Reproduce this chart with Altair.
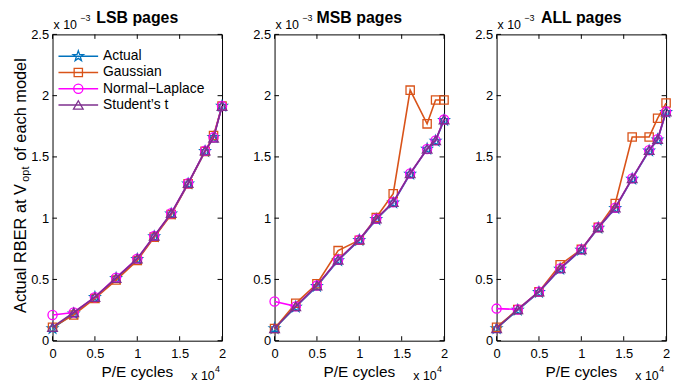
import altair as alt
import numpy as np
import pandas as pd

FONT = "Liberation Sans"

pe_cycles = [0, 2500, 5000, 7500, 10000, 12000, 14000, 16000, 18000, 19000, 20000]
x_ticks = [0, 5000, 10000, 15000, 20000]
y_ticks = [0, 0.5, 1.0, 1.5, 2.0, 2.5]

series_names = ["Actual", "Gaussian", "Normal\u2212Laplace", "Student\u2019s t"]
series_colors = ["#0072BD", "#D95319", "#FF00FF", "#7E2F8E"]

# RBER values in units of 1e-3
lsb_actual = [0.10, 0.22, 0.355, 0.51, 0.665, 0.85, 1.035, 1.28, 1.545, 1.66, 1.915]
lsb_gauss = [0.11, 0.21, 0.345, 0.495, 0.655, 0.845, 1.03, 1.28, 1.545, 1.675, 1.915]
lsb_nl = [0.21, 0.23, 0.355, 0.515, 0.67, 0.855, 1.04, 1.285, 1.55, 1.66, 1.915]
lsb_t = [0.11, 0.23, 0.355, 0.51, 0.67, 0.855, 1.04, 1.285, 1.55, 1.655, 1.915]

msb_actual = [0.10, 0.275, 0.445, 0.655, 0.82, 0.99, 1.125, 1.36, 1.565, 1.63, 1.80]
msb_gauss = [0.10, 0.305, 0.465, 0.735, 0.82, 1.005, 1.20, 2.045, 1.77, 1.965, 1.965]
msb_nl = [0.32, 0.28, 0.45, 0.66, 0.825, 0.995, 1.13, 1.365, 1.565, 1.635, 1.805]
msb_t = [0.10, 0.28, 0.45, 0.66, 0.825, 0.995, 1.13, 1.365, 1.565, 1.635, 1.805]

all_actual = [0.10, 0.25, 0.395, 0.585, 0.74, 0.92, 1.08, 1.32, 1.55, 1.64, 1.865]
all_gauss = [0.11, 0.255, 0.40, 0.62, 0.745, 0.925, 1.12, 1.662, 1.662, 1.815, 1.94]
all_nl = [0.262, 0.255, 0.40, 0.59, 0.745, 0.925, 1.085, 1.325, 1.555, 1.645, 1.87]
all_t = [0.10, 0.255, 0.40, 0.59, 0.745, 0.925, 1.085, 1.325, 1.555, 1.645, 1.87]

panel_titles = ["LSB pages", "MSB pages", "ALL pages"]
panel_data = [
    [lsb_actual, lsb_gauss, lsb_nl, lsb_t],
    [msb_actual, msb_gauss, msb_nl, msb_t],
    [all_actual, all_gauss, all_nl, all_t],
]

# 5-point star (MATLAB pentagram)
_pts = []
for k in range(10):
    r = 1.0 if k % 2 == 0 else 0.40
    a = np.deg2rad(-90 + 36 * k)
    _pts.append(f"{r*np.cos(a):.3f},{r*np.sin(a):.3f}")
STAR = "M" + "L".join(_pts) + "Z"

marker_shapes = [STAR, "square", "circle", "triangle-up"]
marker_sizes = [120, 70, 85, 95]

W, H = 171, 309
TICK = 4.5

xs = alt.Scale(domain=[0, 20000], nice=False, zero=False)
ys = alt.Scale(domain=[0, 2.5], nice=False, zero=False)
xaxis = alt.Axis(values=x_ticks, labelExpr="datum.value / 10000", ticks=False, tickSize=0,
                 domain=False, grid=False, title=None, labelPadding=7, labelFlush=False,
                 labelOverlap=False, labelFont=FONT, labelFontSize=13, labelColor="black")
yaxis = alt.Axis(values=y_ticks, labelExpr="datum.value", ticks=False, tickSize=0,
                 domain=False, grid=False, title=None, labelPadding=4, labelFlush=False,
                 labelOverlap=False, labelFont=FONT, labelFontSize=13, labelColor="black")

one = pd.DataFrame({"k": [0]})


def txt(s, x, y, size, align="center", baseline="alphabetic", weight="normal", angle=0):
    kw = dict(font=FONT, fontSize=size, align=align, baseline=baseline,
              fontWeight=weight, color="black")
    if angle:
        kw["angle"] = angle
    return alt.Chart(one).mark_text(**kw).encode(
        x=alt.value(x), y=alt.value(y), text=alt.value(s))


def panel(idx):
    layers = []
    # tick marks (inside, on all four sides)
    yt = alt.Chart(pd.DataFrame({"rber": y_ticks}))
    xt = alt.Chart(pd.DataFrame({"pe": x_ticks}))
    layers.append(yt.mark_rule(color="black", strokeWidth=1).encode(
        y=alt.Y("rber:Q", scale=ys, axis=yaxis), x=alt.value(0), x2=alt.value(TICK)))
    layers.append(yt.mark_rule(color="black", strokeWidth=1).encode(
        y=alt.Y("rber:Q", scale=ys, axis=yaxis), x=alt.value(W - TICK), x2=alt.value(W)))
    layers.append(xt.mark_rule(color="black", strokeWidth=1).encode(
        x=alt.X("pe:Q", scale=xs, axis=xaxis), y=alt.value(H - TICK), y2=alt.value(H)))
    layers.append(xt.mark_rule(color="black", strokeWidth=1).encode(
        x=alt.X("pe:Q", scale=xs, axis=xaxis), y=alt.value(0), y2=alt.value(TICK)))

    for name, col, shp, sz, vals in zip(series_names, series_colors, marker_shapes,
                                        marker_sizes, panel_data[idx]):
        df = pd.DataFrame({"pe": pe_cycles, "rber": vals})
        base = alt.Chart(df)
        layers.append(base.mark_line(color=col, strokeWidth=1.6).encode(
            x=alt.X("pe:Q", scale=xs, axis=xaxis), y=alt.Y("rber:Q", scale=ys, axis=yaxis)))
        layers.append(base.mark_point(shape=shp, color=col, size=sz, strokeWidth=1.3,
                                      filled=False, opacity=1).encode(
            x=alt.X("pe:Q", scale=xs, axis=xaxis), y=alt.Y("rber:Q", scale=ys, axis=yaxis)))

    # panel title and exponent labels
    layers.append(txt(panel_titles[idx], W / 2, -11.5, 16, weight="bold"))
    layers.append(txt("x 10", 1, -5.5, 12.5, align="left"))
    layers.append(txt("\u22123", 28, -13.5, 9, align="left"))
    layers.append(txt("P/E cycles", W / 2, 346, 15.5))
    layers.append(txt("x 10", 140, 349, 12.5, align="left"))
    layers.append(txt("4", 164, 340.5, 9, align="left"))

    if idx == 0:
        # y title with subscript
        layers.append(txt("Actual RBER at V", -27, 216, 16.5, align="center", angle=270))
        layers.append(txt("opt", -23.5, 141, 11, align="center", angle=270))
        layers.append(txt("of each model", -27, 24, 16.5, align="right", angle=270))
        # legend
        for i, (name, col, shp, sz) in enumerate(zip(series_names, series_colors,
                                                    marker_shapes, marker_sizes)):
            yy = 22 + 16.4 * i
            layers.append(alt.Chart(one).mark_rule(color=col, strokeWidth=1.6).encode(
                x=alt.value(6), x2=alt.value(46), y=alt.value(yy)))
            layers.append(alt.Chart(one).mark_point(shape=shp, color=col, size=sz,
                                                   strokeWidth=1.3, filled=False,
                                                   opacity=1).encode(
                x=alt.value(26), y=alt.value(yy)))
            layers.append(txt(name, 51, yy, 14, align="left", baseline="middle"))

    return alt.layer(*layers).properties(width=W, height=H)


chart = alt.hconcat(panel(0), panel(1), panel(2), spacing=53, bounds="flush").properties(
    padding={"left": 12, "top": 8, "right": 0, "bottom": 0},
    background="white",
).configure_view(stroke="black", strokeWidth=1)

chart.save("out.html", embed_options={"renderer": "svg", "actions": False})
